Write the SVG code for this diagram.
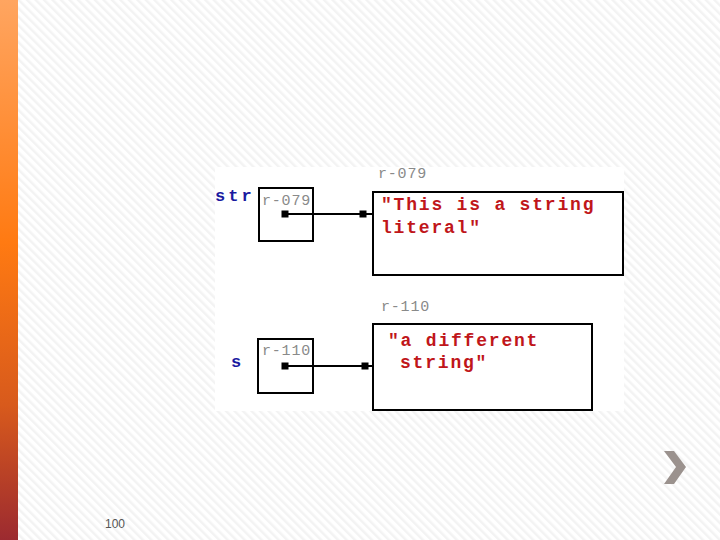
<svg xmlns="http://www.w3.org/2000/svg" width="720" height="540" viewBox="0 0 720 540">
<defs>
<pattern id="stripes" width="6" height="6" patternUnits="userSpaceOnUse" patternTransform="rotate(-45)">
<rect width="6" height="6" fill="#ffffff"/>
<rect width="2.5" height="6" fill="#f3f3f3"/>
</pattern>
<linearGradient id="bar" x1="0" y1="0" x2="0" y2="1">
<stop offset="0" stop-color="#ffa560"/>
<stop offset="0.45" stop-color="#ff7a12"/>
<stop offset="0.75" stop-color="#d85a1c"/>
<stop offset="1" stop-color="#9c2a30"/>
</linearGradient>
<marker id="sq" markerWidth="8" markerHeight="8" refX="4" refY="4" markerUnits="userSpaceOnUse">
<rect x="0.5" y="0.5" width="7" height="7" fill="#000"/>
</marker>
</defs>
<style>
.var{font-family:"Liberation Mono",monospace;font-weight:bold;font-size:17px;fill:#1a1aa0;letter-spacing:3px}
.ref{font-family:"Liberation Mono",monospace;font-size:15px;fill:#8a8a8a;letter-spacing:0.8px}
.val{font-family:"Liberation Mono",monospace;font-weight:bold;font-size:18px;fill:#c0161a;letter-spacing:1.8px}
.box{fill:#fff;stroke:#000;stroke-width:2}
.conn{stroke:#000;stroke-width:2;fill:none}
</style>
<rect width="720" height="540" fill="url(#stripes)"/>
<rect x="0" y="0" width="18" height="540" fill="url(#bar)"/>
<rect x="215" y="167" width="409" height="244" fill="#fff"/>
<g id="str">
<text class="var" x="215" y="201">str</text>
<rect class="box" x="259" y="188" width="54" height="53"/>
<text class="ref" x="262" y="205">r-079</text>
</g>
<g id="r079">
<text class="ref" x="378" y="178">r-079</text>
<rect class="box" x="373" y="192" width="250" height="83"/>
<text class="val" x="381" y="210">"This is a string</text>
<text class="val" x="381" y="233">literal"</text>
</g>
<g id="s">
<text class="var" x="231" y="367">s</text>
<rect class="box" x="258" y="339" width="55" height="54"/>
<text class="ref" x="262" y="355">r-110</text>
</g>
<g id="r110">
<text class="ref" x="381" y="311">r-110</text>
<rect class="box" x="373" y="324" width="219" height="86"/>
<text class="val" x="388" y="346">"a different</text>
<text class="val" x="400" y="368">string"</text>
</g>
<g id="connectors">
<polyline class="conn" points="285,214 363,214 373,214" marker-start="url(#sq)" marker-mid="url(#sq)"/>
<polyline class="conn" points="285,366 365,366 373,366" marker-start="url(#sq)" marker-mid="url(#sq)"/>
</g>
<polygon points="664,451 674,451 686,467 674,484 664,484 676,467" fill="#9b928e"/>
<text x="105" y="528" font-family="Liberation Sans, sans-serif" font-size="12" fill="#555">100</text>
</svg>
